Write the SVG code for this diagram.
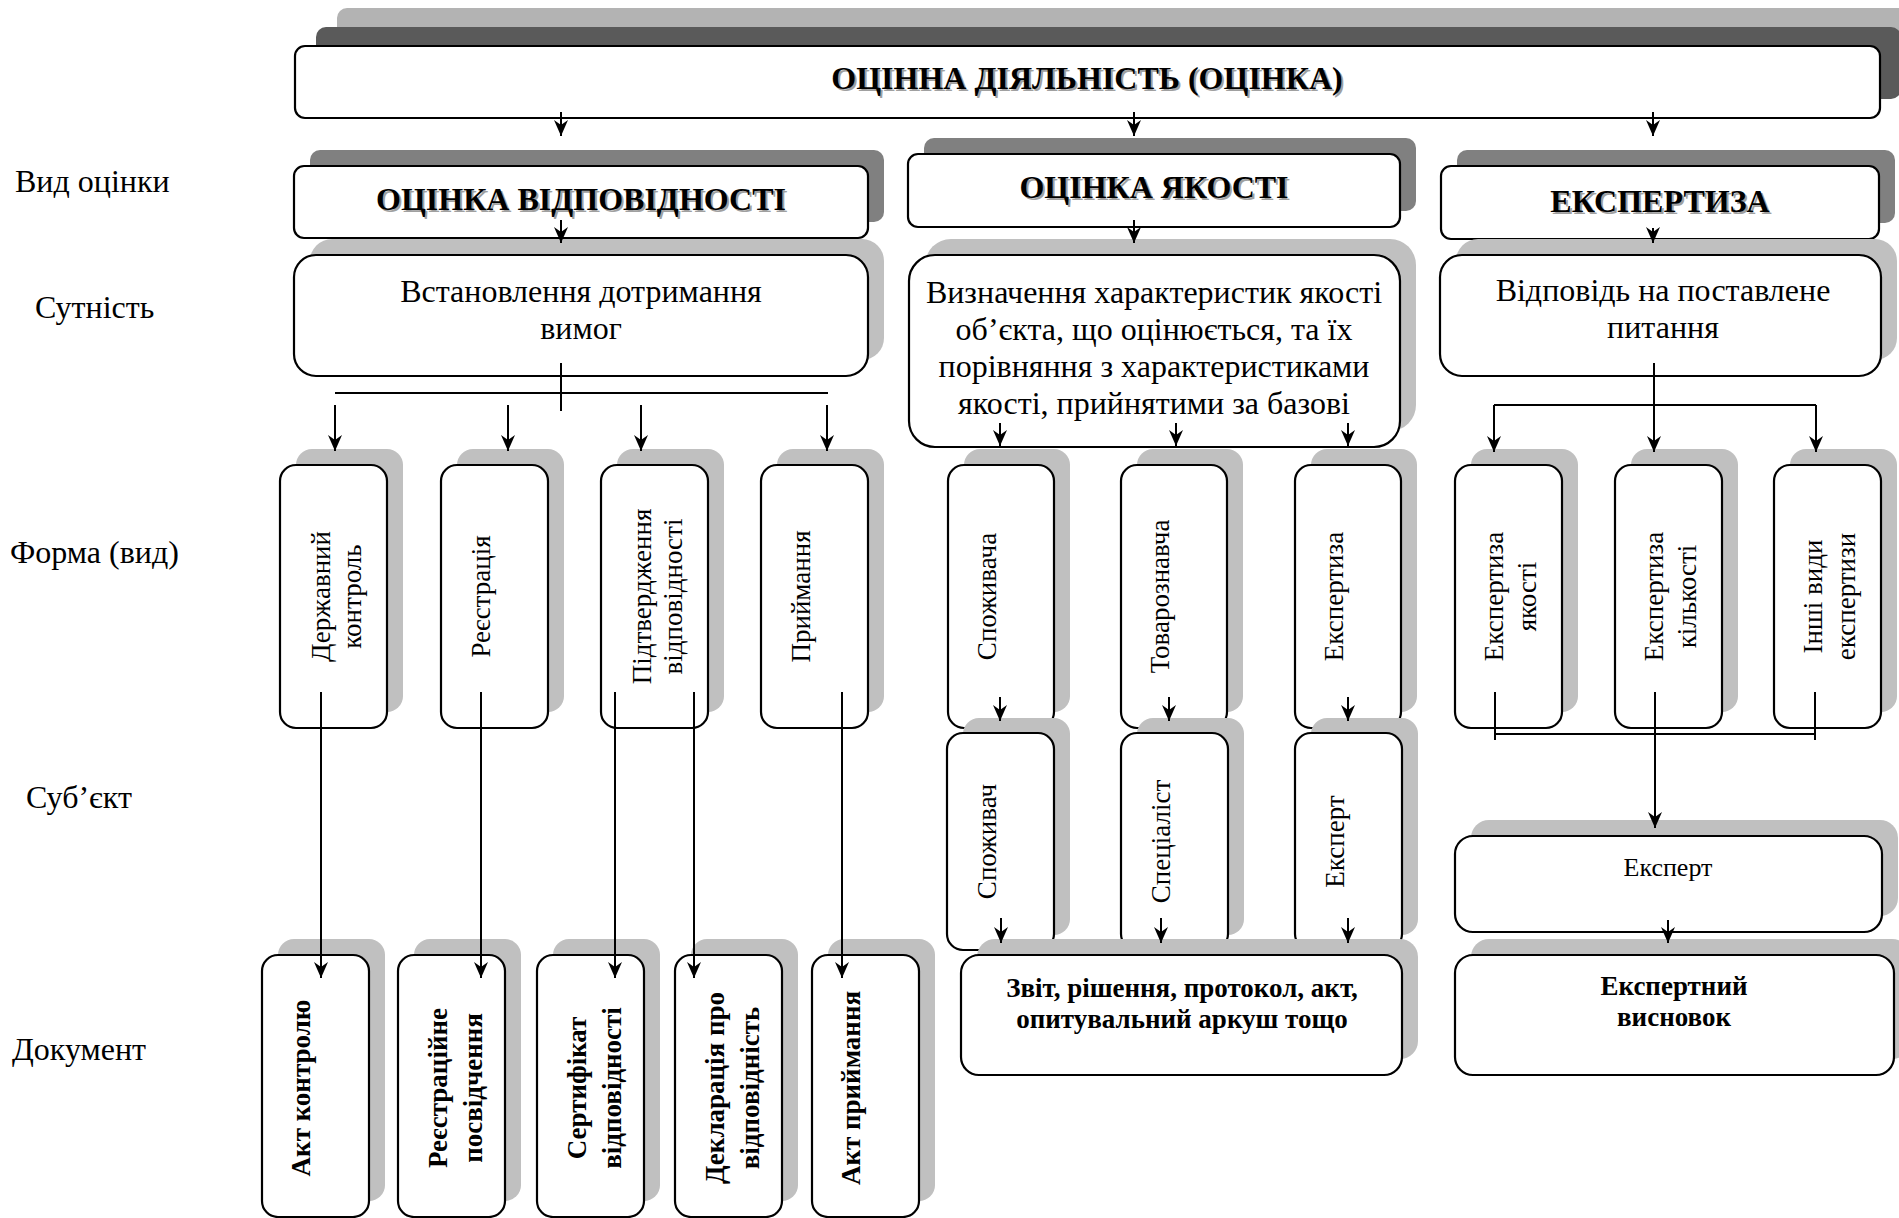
<svg xmlns="http://www.w3.org/2000/svg" width="1899" height="1218" viewBox="0 0 1899 1218">
<defs>
<style>
.bg{fill:#ffffff}
.box{fill:#ffffff;stroke:#000000;stroke-width:2.2}
.sh{fill:#c0c0c0}
.shd{fill:#808080}
.t{font-family:"Liberation Serif","Times New Roman",serif;fill:#000000}
.lbl{font-size:32px}
.hd{font-size:32px;font-weight:bold}
.ttl{font-size:32px;font-weight:bold}
.tsh{fill:#a0a0a0}
.body{font-size:32px}
.rot{font-size:27px}
.doc{font-size:27px;font-weight:bold}
.conn path{stroke:#000000;stroke-width:2;fill:none}
.arr{marker-end:url(#ah)}
</style>
<marker id="ah" viewBox="-16 -8 17 16" refX="0" refY="0" markerWidth="17" markerHeight="16" markerUnits="userSpaceOnUse" orient="auto">
<path d="M0,0 L-16,-7 L-11,0 L-16,7 z" fill="#000000"/>
</marker>
</defs>
<rect class="bg" x="0" y="0" width="1899" height="1218"/>

<g id="labels" class="t lbl">
<text x="15" y="192">Вид оцінки</text>
<text x="35" y="318">Сутність</text>
<text x="10" y="563">Форма (вид)</text>
<text x="26" y="808">Суб’єкт</text>
<text x="12" y="1060">Документ</text>
</g>

<g id="n-root">
<rect x="337" y="8" width="1585" height="72" rx="10" fill="#b3b3b3"/>
<rect x="316" y="27" width="1585" height="72" rx="10" fill="#5a5a5a"/>
<rect class="box" x="295" y="46" width="1585" height="72" rx="10"/>
<text class="t ttl tsh" x="1089" y="91" text-anchor="middle">ОЦІННА ДІЯЛЬНІСТЬ (ОЦІНКА)</text>
<text class="t ttl" x="1087" y="89" text-anchor="middle">ОЦІННА ДІЯЛЬНІСТЬ (ОЦІНКА)</text>
</g>

<g id="n-vidp">
<rect class="shd" x="310" y="150" width="574" height="72" rx="10"/>
<rect class="box" x="294" y="166" width="574" height="72" rx="10"/>
<text class="t hd tsh" x="583" y="212" text-anchor="middle">ОЦІНКА ВІДПОВІДНОСТІ</text>
<text class="t hd" x="581" y="210" text-anchor="middle">ОЦІНКА ВІДПОВІДНОСТІ</text>
</g>
<g id="n-yakist">
<rect class="shd" x="924" y="138" width="492" height="73" rx="10"/>
<rect class="box" x="908" y="154" width="492" height="73" rx="10"/>
<text class="t hd tsh" x="1156" y="200" text-anchor="middle">ОЦІНКА ЯКОСТІ</text>
<text class="t hd" x="1154" y="198" text-anchor="middle">ОЦІНКА ЯКОСТІ</text>
</g>
<g id="n-ekspertyza">
<rect class="shd" x="1457" y="150" width="438" height="73" rx="10"/>
<rect class="box" x="1441" y="166" width="438" height="73" rx="10"/>
<text class="t hd tsh" x="1662" y="214" text-anchor="middle">ЕКСПЕРТИЗА</text>
<text class="t hd" x="1660" y="212" text-anchor="middle">ЕКСПЕРТИЗА</text>
</g>

<g id="n-vstanovlennya">
<rect class="sh" x="310" y="239" width="574" height="121" rx="22"/>
<rect class="box" x="294" y="255" width="574" height="121" rx="22"/>
<text class="t body" x="581" y="302" text-anchor="middle">Встановлення дотримання</text>
<text class="t body" x="581" y="339" text-anchor="middle">вимог</text>
</g>
<g id="n-vyznachennya">
<rect class="sh" x="925" y="239" width="491" height="192" rx="26"/>
<rect class="box" x="909" y="255" width="491" height="192" rx="26"/>
<text class="t body" x="1154" y="303" text-anchor="middle">Визначення характеристик якості</text>
<text class="t body" x="1154" y="340" text-anchor="middle">об’єкта, що оцінюється, та їх</text>
<text class="t body" x="1154" y="377" text-anchor="middle">порівняння з характеристиками</text>
<text class="t body" x="1154" y="414" text-anchor="middle">якості, прийнятими за базові</text>
</g>
<g id="n-vidpovid">
<rect class="sh" x="1456" y="239" width="441" height="121" rx="22"/>
<rect class="box" x="1440" y="255" width="441" height="121" rx="22"/>
<text class="t body" x="1663" y="301" text-anchor="middle">Відповідь на поставлене</text>
<text class="t body" x="1663" y="338" text-anchor="middle">питання</text>
</g>

<!-- Form level, left group -->
<g id="n-derzh-kontrol">
<rect class="sh" x="296" y="449" width="107" height="263" rx="16"/>
<rect class="box" x="280" y="465" width="107" height="263" rx="16"/>
<text class="t rot" transform="translate(333.5,596.5) rotate(-90)" text-anchor="middle"><tspan x="0" y="-4">Державний</tspan><tspan x="0" y="27">контроль</tspan></text>
</g>
<g id="n-reyestratsiya">
<rect class="sh" x="457" y="449" width="107" height="263" rx="16"/>
<rect class="box" x="441" y="465" width="107" height="263" rx="16"/>
<text class="t rot" transform="translate(494.5,596.5) rotate(-90)" text-anchor="middle" x="0" y="-5">Реєстрація</text>
</g>
<g id="n-pidtverdzhennya">
<rect class="sh" x="617" y="449" width="107" height="263" rx="16"/>
<rect class="box" x="601" y="465" width="107" height="263" rx="16"/>
<text class="t rot" transform="translate(654.5,596.5) rotate(-90)" text-anchor="middle"><tspan x="0" y="-4">Підтвердження</tspan><tspan x="0" y="27">відповідності</tspan></text>
</g>
<g id="n-pryimannya">
<rect class="sh" x="777" y="449" width="107" height="263" rx="16"/>
<rect class="box" x="761" y="465" width="107" height="263" rx="16"/>
<text class="t rot" transform="translate(814.5,596.5) rotate(-90)" text-anchor="middle" x="0" y="-5">Приймання</text>
</g>

<!-- Form level, middle group -->
<g id="n-spozhyvacha">
<rect class="sh" x="964" y="449" width="106" height="263" rx="16"/>
<rect class="box" x="948" y="465" width="106" height="263" rx="16"/>
<text class="t rot" transform="translate(1001,596.5) rotate(-90)" text-anchor="middle" x="0" y="-5">Споживача</text>
</g>
<g id="n-tovaroznavcha">
<rect class="sh" x="1137" y="449" width="106" height="263" rx="16"/>
<rect class="box" x="1121" y="465" width="106" height="263" rx="16"/>
<text class="t rot" transform="translate(1174,596.5) rotate(-90)" text-anchor="middle" x="0" y="-5">Товарознавча</text>
</g>
<g id="n-ekspertyza-f">
<rect class="sh" x="1311" y="449" width="106" height="263" rx="16"/>
<rect class="box" x="1295" y="465" width="106" height="263" rx="16"/>
<text class="t rot" transform="translate(1348,596.5) rotate(-90)" text-anchor="middle" x="0" y="-5">Експертиза</text>
</g>

<!-- Form level, right group -->
<g id="n-eksp-yakosti">
<rect class="sh" x="1471" y="449" width="107" height="263" rx="16"/>
<rect class="box" x="1455" y="465" width="107" height="263" rx="16"/>
<text class="t rot" transform="translate(1508.5,596.5) rotate(-90)" text-anchor="middle"><tspan x="0" y="-6">Експертиза</tspan><tspan x="0" y="27">якості</tspan></text>
</g>
<g id="n-eksp-kilkosti">
<rect class="sh" x="1631" y="449" width="107" height="263" rx="16"/>
<rect class="box" x="1615" y="465" width="107" height="263" rx="16"/>
<text class="t rot" transform="translate(1668.5,596.5) rotate(-90)" text-anchor="middle"><tspan x="0" y="-6">Експертиза</tspan><tspan x="0" y="27">кількості</tspan></text>
</g>
<g id="n-inshi">
<rect class="sh" x="1790" y="449" width="107" height="263" rx="16"/>
<rect class="box" x="1774" y="465" width="107" height="263" rx="16"/>
<text class="t rot" transform="translate(1827.5,596.5) rotate(-90)" text-anchor="middle"><tspan x="0" y="-6">Інші види</tspan><tspan x="0" y="27">експертизи</tspan></text>
</g>

<!-- Subject level -->
<g id="n-spozhyvach">
<rect class="sh" x="963" y="718" width="107" height="217" rx="16"/>
<rect class="box" x="947" y="733" width="107" height="217" rx="16"/>
<text class="t rot" transform="translate(1000.5,841.5) rotate(-90)" text-anchor="middle" x="0" y="-5">Споживач</text>
</g>
<g id="n-spetsialist">
<rect class="sh" x="1137" y="718" width="107" height="217" rx="16"/>
<rect class="box" x="1121" y="733" width="107" height="217" rx="16"/>
<text class="t rot" transform="translate(1174.5,841.5) rotate(-90)" text-anchor="middle" x="0" y="-5">Спеціаліст</text>
</g>
<g id="n-ekspert-m">
<rect class="sh" x="1311" y="718" width="107" height="217" rx="16"/>
<rect class="box" x="1295" y="733" width="107" height="217" rx="16"/>
<text class="t rot" transform="translate(1348.5,841.5) rotate(-90)" text-anchor="middle" x="0" y="-5">Експерт</text>
</g>
<g id="n-ekspert-r">
<rect class="sh" x="1471" y="820" width="427" height="96" rx="18"/>
<rect class="box" x="1455" y="836" width="427" height="96" rx="18"/>
<text class="t" style="font-size:26px" x="1668" y="876" text-anchor="middle">Експерт</text>
</g>

<!-- Document level -->
<g id="n-akt-kontrolyu">
<rect class="sh" x="278" y="939" width="107" height="262" rx="16"/>
<rect class="box" x="262" y="955" width="107" height="262" rx="16"/>
<text class="t doc" transform="translate(315.5,1088) rotate(-90)" text-anchor="middle" x="0" y="-6">Акт контролю</text>
</g>
<g id="n-reyestr-posv">
<rect class="sh" x="414" y="939" width="107" height="262" rx="16"/>
<rect class="box" x="398" y="955" width="107" height="262" rx="16"/>
<text class="t doc" transform="translate(451.5,1088) rotate(-90)" text-anchor="middle"><tspan x="0" y="-5">Реєстраційне</tspan><tspan x="0" y="30">посвідчення</tspan></text>
</g>
<g id="n-sertyfikat">
<rect class="sh" x="553" y="939" width="107" height="262" rx="16"/>
<rect class="box" x="537" y="955" width="107" height="262" rx="16"/>
<text class="t doc" transform="translate(590.5,1088) rotate(-90)" text-anchor="middle"><tspan x="0" y="-5">Сертифікат</tspan><tspan x="0" y="30">відповідності</tspan></text>
</g>
<g id="n-deklaratsiya">
<rect class="sh" x="691" y="939" width="107" height="262" rx="16"/>
<rect class="box" x="675" y="955" width="107" height="262" rx="16"/>
<text class="t doc" transform="translate(728.5,1088) rotate(-90)" text-anchor="middle"><tspan x="0" y="-5">Декларація про</tspan><tspan x="0" y="30">відповідність</tspan></text>
</g>
<g id="n-akt-pryimannya">
<rect class="sh" x="828" y="939" width="107" height="262" rx="16"/>
<rect class="box" x="812" y="955" width="107" height="262" rx="16"/>
<text class="t doc" transform="translate(865.5,1088) rotate(-90)" text-anchor="middle" x="0" y="-6">Акт приймання</text>
</g>
<g id="n-zvit">
<rect class="sh" x="977" y="939" width="441" height="120" rx="18"/>
<rect class="box" x="961" y="955" width="441" height="120" rx="18"/>
<text class="t doc" x="1182" y="997" text-anchor="middle">Звіт, рішення, протокол, акт,</text>
<text class="t doc" x="1182" y="1028" text-anchor="middle">опитувальний аркуш тощо</text>
</g>
<g id="n-vysnovok">
<rect class="sh" x="1471" y="939" width="439" height="120" rx="18"/>
<rect class="box" x="1455" y="955" width="439" height="120" rx="18"/>
<text class="t doc" x="1674" y="995" text-anchor="middle">Експертний</text>
<text class="t doc" x="1674" y="1026" text-anchor="middle">висновок</text>
</g>

<g id="connectors" class="conn">
<path class="arr" d="M561 112 V136"/>
<path class="arr" d="M1134 112 V136"/>
<path class="arr" d="M1653 112 V136"/>
<path class="arr" d="M561 220 V243"/>
<path class="arr" d="M1134 220 V243"/>
<path class="arr" d="M1653 228 V243"/>
<path d="M561 363 V411"/>
<path d="M335 393 H828"/>
<path class="arr" d="M335 405 V451"/>
<path class="arr" d="M508 405 V451"/>
<path class="arr" d="M641 405 V451"/>
<path class="arr" d="M827 405 V451"/>
<path class="arr" d="M1000 423 V446"/>
<path class="arr" d="M1176 423 V446"/>
<path class="arr" d="M1348 423 V446"/>
<path class="arr" d="M1654 363 V452"/>
<path d="M1494 405 H1816"/>
<path class="arr" d="M1494 405 V452"/>
<path class="arr" d="M1816 405 V452"/>
<path class="arr" d="M321 692 V978"/>
<path class="arr" d="M481 692 V978"/>
<path class="arr" d="M615 692 V978"/>
<path class="arr" d="M694 692 V978"/>
<path class="arr" d="M842 692 V978"/>
<path class="arr" d="M1000 697 V721"/>
<path class="arr" d="M1169 697 V721"/>
<path class="arr" d="M1348 697 V721"/>
<path class="arr" d="M1001 918 V943"/>
<path class="arr" d="M1161 918 V943"/>
<path class="arr" d="M1348 918 V943"/>
<path d="M1495 692 V740"/>
<path d="M1815 692 V740"/>
<path d="M1495 734 H1815"/>
<path class="arr" d="M1655 692 V828"/>
<path class="arr" d="M1668 920 V943"/>
</g>
</svg>
